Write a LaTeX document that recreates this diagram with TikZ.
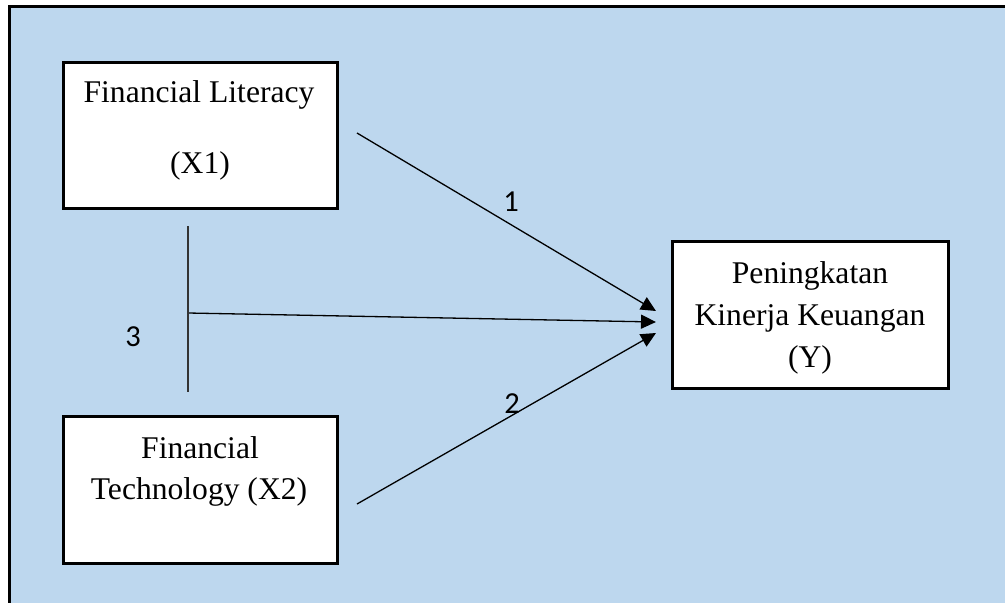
\documentclass[tikz,border=0pt]{standalone}
\usepackage{fontspec}
\setmainfont{Liberation Serif}
\newfontfamily\labfont{Carlito}
\usetikzlibrary{arrows.meta}
\definecolor{bgblue}{RGB}{189,215,238}
\begin{document}
\begin{tikzpicture}[x=1pt,y=-1pt,
  box/.style={draw=black,line width=3pt,fill=white,inner sep=0pt,outer sep=0pt},
  boxtext/.style={font=\fontsize{31.6}{36}\selectfont,anchor=base,inner sep=0pt},
  num/.style={font=\labfont\fontsize{30.5}{36}\selectfont,inner sep=0pt},
  conn/.style={line width=1.3pt,-{Triangle[length=15pt,width=14pt]}},
  plain/.style={line width=1.3pt}]
\useasboundingbox (0,0) rectangle (1005,603);
\clip (0,0) rectangle (1005,603);
\draw[fill=bgblue,line width=3pt] (9.5,6) rectangle (1030,630);
% boxes
\node[box,minimum width=274pt,minimum height=146pt] (x1) at (200,135) {};
\node[box,minimum width=274pt,minimum height=147pt] (x2) at (200,489.5) {};
\node[box,minimum width=276pt,minimum height=147pt] (y) at (810,314.5) {};
% box texts
\node[boxtext] (x1a) at (199,102) {Financial Literacy};
\node[boxtext] (x1b) at (200,173) {(X1)};
\node[boxtext] (x2a) at (200,458) {Financial};
\node[boxtext] (x2b) at (199,499) {Technology (X2)};
\node[boxtext] (ya) at (810,283) {Peningkatan};
\node[boxtext] (yb) at (810,325) {Kinerja Keuangan};
\node[boxtext] (yc) at (810,367) {(Y)};
% connector points
\coordinate (s1) at (357,133);
\coordinate (s2) at (357,504);
\coordinate (vt) at (188,226);
\coordinate (vb) at (188,392);
\coordinate (vm) at (188,313);
\coordinate (t1) at (656,311);
\coordinate (t2) at (656,322);
\coordinate (t3) at (656,333);
% connectors
\draw[conn] (s1) -- (t1);
\draw[conn] (vm) -- (t2);
\draw[conn] (s2) -- (t3);
\draw[line width=2pt,draw=black!80] (vt) -- (vb);
% labels
\node[num] (n1) at (511,202) {1};
\node[num] (n2) at (512,404) {2};
\node[num] (n3) at (133,337) {3};
\end{tikzpicture}
\end{document}
